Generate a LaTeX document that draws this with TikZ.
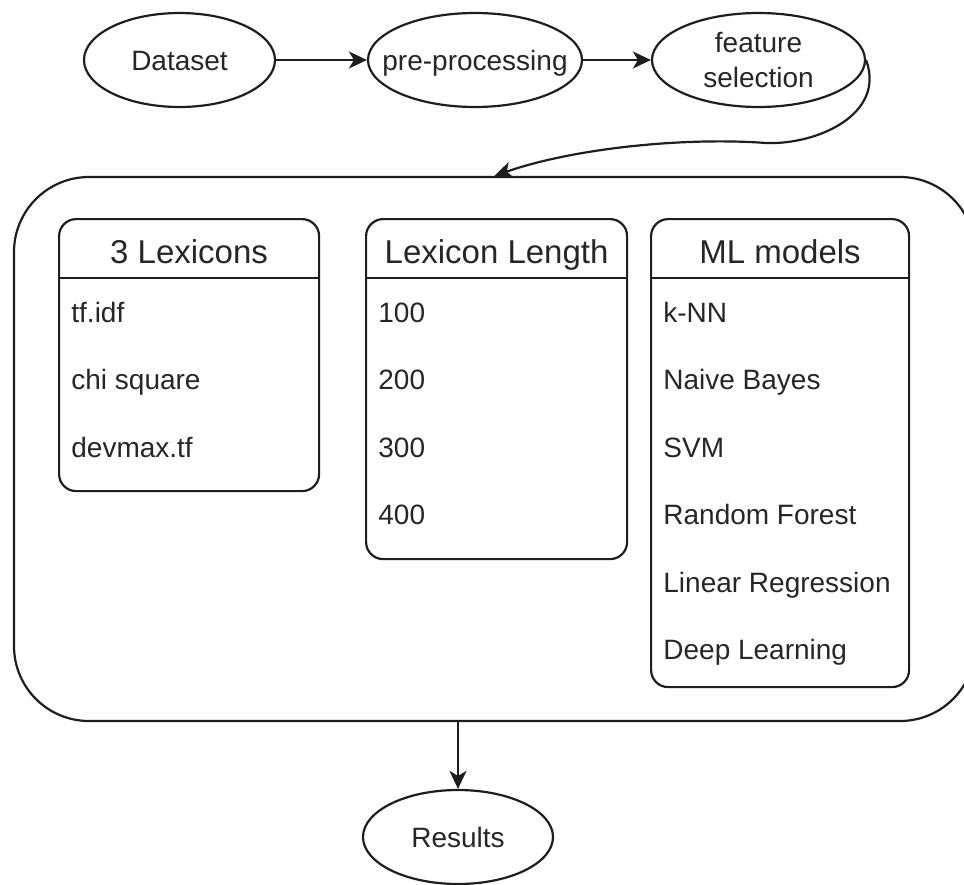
\documentclass[tikz,border=0pt]{standalone}
\usepackage{fontspec}
\setmainfont{Liberation Sans}
\usetikzlibrary{shapes.geometric,arrows.meta}
\definecolor{ink}{HTML}{1E1E1E}
\definecolor{txt}{HTML}{262626}
\begin{document}
\begin{tikzpicture}[x=0.5pt,y=-0.5pt,
  every node/.style={text=txt},
  body/.style={font=\fontsize{14pt}{17.5pt}\selectfont},
  oval/.style={ellipse, draw=ink, line width=1.1pt, inner sep=0pt, body,
    text height=10pt, text depth=0pt},
  frame/.style={draw=ink, line width=1.1pt, rounded corners=37.5pt,
    inner sep=0pt},
  listbox/.style={draw=ink, line width=1.1pt, rounded corners=8.5pt,
    inner sep=0pt, anchor=north west},
  head/.style={font=\fontsize{16.5pt}{20pt}\selectfont, inner sep=0pt,
    text height=11.8pt, text depth=0pt},
  item/.style={body, anchor=west, inner sep=0pt, xshift=6.5pt,
    text height=10pt, text depth=0pt},
  rule/.style={draw=ink, line width=1.1pt},
  arr/.style={draw=ink, line width=1.1pt,
    -{Stealth[length=9pt,width=8.5pt,inset=2.5pt]}},
]
\useasboundingbox (0,0) rectangle (964,884);

% pipeline at the top
\node[oval, minimum width=95.5pt, minimum height=47pt] (data) at (179.5,60)
  {\makebox[0pt]{Dataset}};
\node[oval, minimum width=107pt, minimum height=47pt] (pre) at (475,60)
  {\makebox[0pt]{pre-processing}};
\node[oval, minimum width=106.5pt, minimum height=47pt, align=center,
  text height=, text depth=] (feat) at (758.5,60) {feature\\selection};

% container of the three lists
\node[frame, minimum width=480.5pt, minimum height=272pt] (big) at (494.5,449) {};

% row and header positions
\coordinate (hd) at (0,252);
\coordinate (sep) at (0,278);
\coordinate (r1) at (0,312);
\coordinate (r2) at (0,379.5);
\coordinate (r3) at (0,447);
\coordinate (r4) at (0,514.5);
\coordinate (r5) at (0,582);
\coordinate (r6) at (0,649.5);

% lexicons
\node[listbox, minimum width=130pt, minimum height=136pt] (lex) at (58,218) {};
\node[head] (lexh) at (lex.north |- hd) {3 Lexicons};
\draw[rule] (lex.west |- sep) -- (lex.east |- sep);
\node[item] (lex1) at (lex.west |- r1) {tf.idf};
\node[item] (lex2) at (lex.west |- r2) {chi square};
\node[item] (lex3) at (lex.west |- r3) {devmax.tf};

% lexicon lengths
\node[listbox, minimum width=130.5pt, minimum height=170pt] (len) at (365,218) {};
\node[head] (lenh) at (len.north |- hd) {Lexicon Length};
\draw[rule] (len.west |- sep) -- (len.east |- sep);
\node[item] (len1) at (len.west |- r1) {100};
\node[item] (len2) at (len.west |- r2) {200};
\node[item] (len3) at (len.west |- r3) {300};
\node[item] (len4) at (len.west |- r4) {400};

% models
\node[listbox, minimum width=129pt, minimum height=234pt] (ml) at (650,218) {};
\node[head] (mlh) at (ml.north |- hd) {ML models};
\draw[rule] (ml.west |- sep) -- (ml.east |- sep);
\node[item] (ml1) at (ml.west |- r1) {k-NN};
\node[item] (ml2) at (ml.west |- r2) {Naive Bayes};
\node[item] (ml3) at (ml.west |- r3) {SVM};
\node[item] (ml4) at (ml.west |- r4) {Random Forest};
\node[item] (ml5) at (ml.west |- r5) {Linear Regression};
\node[item] (ml6) at (ml.west |- r6) {Deep Learning};

% result
\node[oval, minimum width=95pt, minimum height=47pt] (res) at (458,837)
  {\makebox[0pt]{Results}};

% connectors
\draw[arr] (data) -- (pre);
\draw[arr] (pre) -- (feat);
\coordinate (bend) at (766,143);
\draw[arr] (feat.east) .. controls +(20,55) and +(50,2) .. (bend)
  .. controls +(-80,-6) and +(80,-28) .. (big.north);
\draw[arr] (big.south -| res.north) -- (res.north);
\end{tikzpicture}
\end{document}
